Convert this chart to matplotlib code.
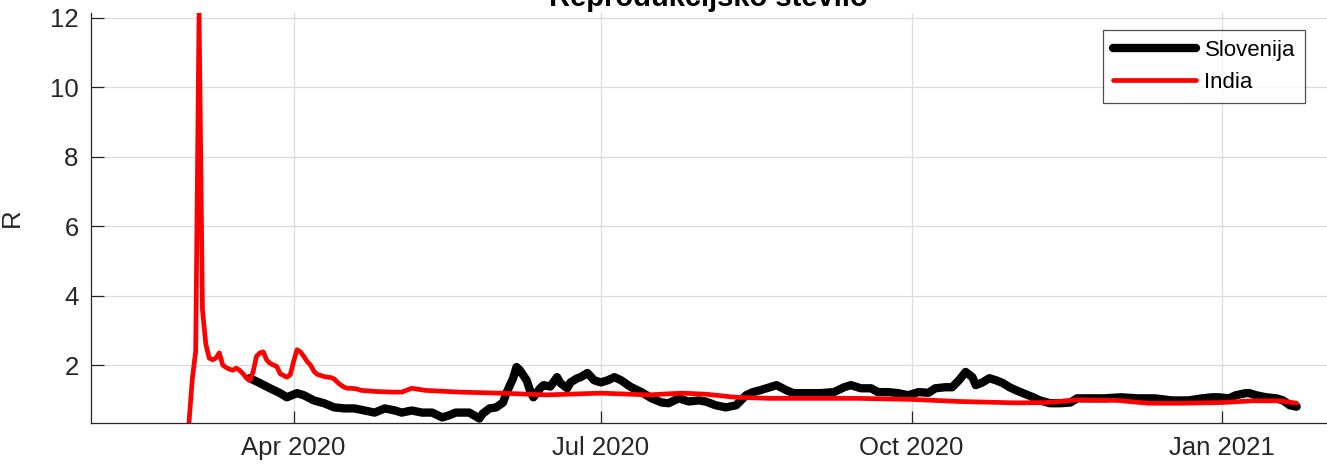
import matplotlib
matplotlib.use("Agg")
import matplotlib.pyplot as plt
import matplotlib.dates as mdates
import numpy as np

plt.rcParams['font.family'] = ['Liberation Sans', 'DejaVu Sans']

# India - reproduction number
india_dates = [
    "2020-03-01", "2020-03-02", "2020-03-03", "2020-03-04", "2020-03-05", "2020-03-06",
    "2020-03-07", "2020-03-08", "2020-03-09", "2020-03-10", "2020-03-11", "2020-03-12",
    "2020-03-13", "2020-03-14", "2020-03-15", "2020-03-16", "2020-03-17", "2020-03-18",
    "2020-03-19", "2020-03-20", "2020-03-21", "2020-03-22", "2020-03-23", "2020-03-24",
    "2020-03-25", "2020-03-26", "2020-03-27", "2020-03-28", "2020-03-29", "2020-03-30",
    "2020-03-31", "2020-04-01", "2020-04-02", "2020-04-03", "2020-04-04", "2020-04-05",
    "2020-04-06", "2020-04-07", "2020-04-08", "2020-04-09", "2020-04-10", "2020-04-11",
    "2020-04-12", "2020-04-13", "2020-04-14", "2020-04-15", "2020-04-16", "2020-04-17",
    "2020-04-18", "2020-04-19", "2020-04-20", "2020-04-21", "2020-04-25", "2020-04-30",
    "2020-05-03", "2020-05-06", "2020-05-10", "2020-05-20", "2020-06-01", "2020-06-15",
    "2020-07-01", "2020-07-15", "2020-07-25", "2020-08-01", "2020-08-10", "2020-08-20",
    "2020-09-01", "2020-09-15", "2020-10-01", "2020-10-15", "2020-11-01", "2020-11-10",
    "2020-11-20", "2020-12-01", "2020-12-10", "2020-12-20", "2021-01-01", "2021-01-10",
    "2021-01-18", "2021-01-23",
]
india_r = [
    0.33, 1.6, 2.4, 12.14, 3.6, 2.6,
    2.2, 2.15, 2.2, 2.35, 2.0, 1.93,
    1.88, 1.85, 1.91, 1.85, 1.75, 1.63,
    1.56, 1.8, 2.25, 2.35, 2.38, 2.15,
    2.05, 2.0, 1.96, 1.75, 1.7, 1.65,
    1.72, 2.1, 2.44, 2.38, 2.25, 2.1,
    2.0, 1.82, 1.73, 1.7, 1.67, 1.65,
    1.64, 1.6, 1.5, 1.42, 1.36, 1.33,
    1.33, 1.32, 1.3, 1.27, 1.24, 1.22,
    1.22, 1.33, 1.27, 1.22, 1.19, 1.14,
    1.19, 1.14, 1.19, 1.16, 1.07, 1.04,
    1.04, 1.04, 1.01, 0.95, 0.91, 0.92,
    1.0, 0.98, 0.9, 0.9, 0.92, 0.97,
    0.97, 0.9,
]

# Slovenija - reproduction number
slo_dates = [
    "2020-03-19", "2020-03-22", "2020-03-25", "2020-03-28", "2020-03-30", "2020-04-02",
    "2020-04-04", "2020-04-07", "2020-04-10", "2020-04-13", "2020-04-16", "2020-04-19",
    "2020-04-22", "2020-04-25", "2020-04-28", "2020-05-01", "2020-05-03", "2020-05-06",
    "2020-05-09", "2020-05-12", "2020-05-15", "2020-05-17", "2020-05-19", "2020-05-21",
    "2020-05-23", "2020-05-26", "2020-05-27", "2020-05-29", "2020-05-31", "2020-06-02",
    "2020-06-03", "2020-06-05", "2020-06-06", "2020-06-07", "2020-06-09", "2020-06-10",
    "2020-06-11", "2020-06-13", "2020-06-14", "2020-06-16", "2020-06-18", "2020-06-19",
    "2020-06-21", "2020-06-22", "2020-06-24", "2020-06-25", "2020-06-27", "2020-06-29",
    "2020-07-01", "2020-07-03", "2020-07-05", "2020-07-07", "2020-07-09", "2020-07-10",
    "2020-07-13", "2020-07-16", "2020-07-19", "2020-07-21", "2020-07-24", "2020-07-27",
    "2020-07-30", "2020-08-01", "2020-08-04", "2020-08-07", "2020-08-10", "2020-08-13",
    "2020-08-15", "2020-08-17", "2020-08-20", "2020-08-22", "2020-08-25", "2020-08-27",
    "2020-08-31", "2020-09-04", "2020-09-08", "2020-09-11", "2020-09-13", "2020-09-16",
    "2020-09-19", "2020-09-21", "2020-09-24", "2020-09-27", "2020-09-30", "2020-10-03",
    "2020-10-06", "2020-10-08", "2020-10-11", "2020-10-13", "2020-10-15", "2020-10-17",
    "2020-10-19", "2020-10-20", "2020-10-22", "2020-10-24", "2020-10-26", "2020-10-28",
    "2020-10-30", "2020-11-01", "2020-11-03", "2020-11-06", "2020-11-08", "2020-11-11",
    "2020-11-14", "2020-11-17", "2020-11-19", "2020-11-22", "2020-11-27", "2020-12-02",
    "2020-12-07", "2020-12-12", "2020-12-17", "2020-12-22", "2020-12-26", "2020-12-29",
    "2020-12-31", "2021-01-03", "2021-01-05", "2021-01-08", "2021-01-09", "2021-01-11",
    "2021-01-14", "2021-01-17", "2021-01-19", "2021-01-21", "2021-01-23",
]
slo_r = [
    1.62, 1.48, 1.33, 1.19, 1.07, 1.19,
    1.13, 0.98, 0.9, 0.78, 0.75, 0.75,
    0.69, 0.63, 0.75, 0.69, 0.63, 0.69,
    0.63, 0.63, 0.49, 0.55, 0.63, 0.63,
    0.63, 0.46, 0.6, 0.75, 0.78, 0.92,
    1.19, 1.62, 1.94, 1.85, 1.56, 1.27,
    1.07, 1.33, 1.42, 1.38, 1.65, 1.48,
    1.33, 1.5, 1.62, 1.65, 1.77, 1.56,
    1.5, 1.56, 1.65, 1.56, 1.42, 1.36,
    1.22, 1.04, 0.92, 0.9, 1.04, 0.95,
    0.98, 0.95, 0.84, 0.78, 0.84, 1.13,
    1.22, 1.27, 1.36, 1.42, 1.27, 1.19,
    1.19, 1.19, 1.22, 1.36, 1.42, 1.33,
    1.33, 1.22, 1.22, 1.19, 1.13, 1.22,
    1.2, 1.33, 1.36, 1.36, 1.56, 1.8,
    1.65, 1.42, 1.5, 1.62, 1.56, 1.48,
    1.36, 1.27, 1.19, 1.07, 0.98, 0.9,
    0.9, 0.92, 1.04, 1.04, 1.04, 1.07,
    1.04, 1.04, 0.98, 0.98, 1.04, 1.07,
    1.07, 1.04, 1.13, 1.19, 1.19, 1.13,
    1.07, 1.04, 0.98, 0.84, 0.8,
]

india_x = np.array(india_dates, dtype='datetime64[D]')
slo_x = np.array(slo_dates, dtype='datetime64[D]')

fig = plt.figure(figsize=(13.27, 4.69), dpi=100)
ax = fig.add_axes([91 / 1327, 1 - 423 / 469, 1 - 91 / 1327, (423 - 13) / 469])

ax.plot(slo_x, slo_r, color='black', linewidth=6.0, label='Slovenija',
        solid_joinstyle='round', solid_capstyle='round')
ax.plot(india_x, india_r, color='#ff0000', linewidth=3.4, label='India',
        solid_joinstyle='round', solid_capstyle='round')

ax.set_xlim(np.datetime64('2020-02-01'), np.datetime64('2021-02-01'))
ax.set_ylim(min(india_r), max(india_r))
ax.set_yticks([2, 4, 6, 8, 10, 12])
ax.xaxis.set_major_locator(mdates.MonthLocator(bymonth=[1, 4, 7, 10]))
ax.xaxis.set_major_formatter(mdates.DateFormatter('%b %Y'))

ax.grid(True, color='#dcdcdc', linewidth=0.9)
ax.set_axisbelow(True)
for s in ['top', 'right']:
    ax.spines[s].set_visible(False)
for s in ['left', 'bottom']:
    ax.spines[s].set_color('#262626')
    ax.spines[s].set_linewidth(0.9)
ax.tick_params(direction='in', length=9, width=0.9, colors='#262626',
               labelsize=18.5, pad=9)

ax.set_ylabel('R', fontsize=18.5, color='#262626')
ax.yaxis.set_label_coords(-0.054, 0.5)

fig.text(0.534, 1 - 6 / 469, 'Reprodukcijsko število', ha='center', va='baseline',
         fontsize=21, fontweight='bold', color='black')

leg = ax.legend(loc='upper right', fontsize=16, frameon=True, fancybox=False,
                edgecolor='#262626', handlelength=3.7, handletextpad=0.4,
                borderpad=0.45, labelspacing=0.5, borderaxespad=0)
leg.get_frame().set_linewidth(0.9)
leg.set_bbox_to_anchor((1 - 22 / 1236, 1 - 17 / 410), transform=ax.transAxes)

fig.savefig('out.png', dpi=100)
